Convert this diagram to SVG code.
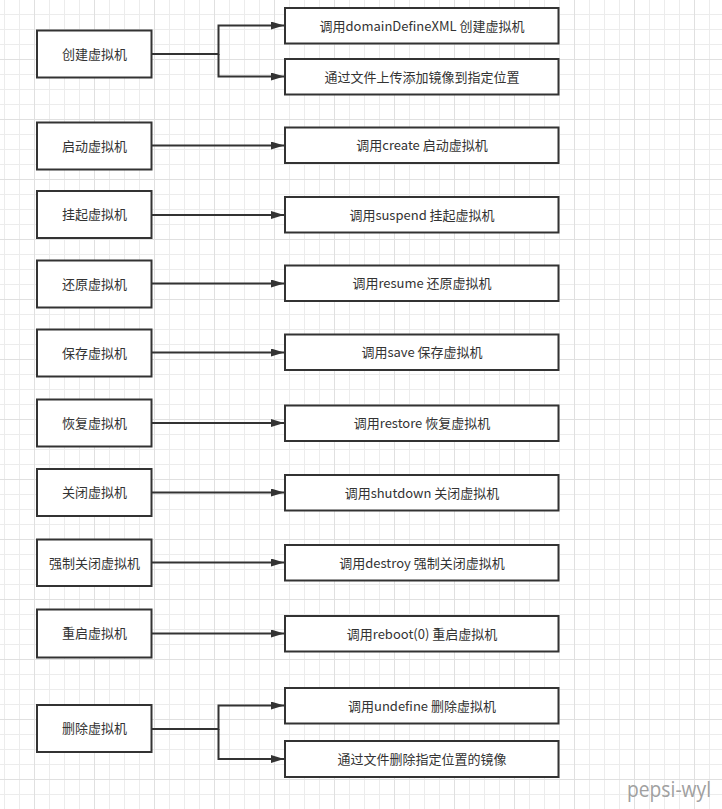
<svg xmlns="http://www.w3.org/2000/svg" width="722" height="809" viewBox="0 0 722 809">
<style>
.l{fill:#fff;stroke:#333;stroke-width:2}
.t{font-family:"Noto Sans CJK SC","Microsoft YaHei",sans-serif;font-size:13px;fill:#333;text-anchor:middle}
.c{fill:none;stroke:#333;stroke-width:2}
</style>
<defs>
<pattern id="grid" x="4" y="14" width="60" height="60" patternUnits="userSpaceOnUse">
<path d="M0.5,0V60M15.5,0V60M45.5,0V60M0,0.5H60M0,15.5H60M0,30.5H60" stroke="#ececec" stroke-width="1" fill="none"/>
<path d="M30.5,0V60M0,45.5H60" stroke="#e0e0e0" stroke-width="1" fill="none"/>
</pattern>
<marker id="ar" markerUnits="userSpaceOnUse" markerWidth="14" markerHeight="10" refX="13" refY="4" orient="auto">
<path d="M0,0L13,4L0,8z" fill="#333"/>
</marker>
</defs>
<rect width="722" height="809" fill="#fff"/>
<rect width="722" height="809" fill="url(#grid)"/>

<g id="connectors">
<path class="c" d="M152,54H218.5V25.5H284" marker-end="url(#ar)"/>
<path class="c" d="M218.5,54V76.5H284" marker-end="url(#ar)"/>
<path class="c" d="M152,145.5H284" marker-end="url(#ar)"/>
<path class="c" d="M152,215H284" marker-end="url(#ar)"/>
<path class="c" d="M152,283.5H284" marker-end="url(#ar)"/>
<path class="c" d="M152,352.5H284" marker-end="url(#ar)"/>
<path class="c" d="M152,423H284" marker-end="url(#ar)"/>
<path class="c" d="M152,492.5H284" marker-end="url(#ar)"/>
<path class="c" d="M152,562.5H284" marker-end="url(#ar)"/>
<path class="c" d="M152,633.5H284" marker-end="url(#ar)"/>
<path class="c" d="M152,729H218.5V705.5H284" marker-end="url(#ar)"/>
<path class="c" d="M218.5,729V759H284" marker-end="url(#ar)"/>
</g>

<g id="n1"><rect class="l" x="37" y="30.5" width="114.5" height="47"/><text class="t" x="94.5" y="58.5">创建虚拟机</text></g>
<g id="n1a"><rect class="l" x="285" y="8" width="273.5" height="35.5"/><text class="t" x="422" y="30.5">调用domainDefineXML 创建虚拟机</text></g>
<g id="n1b"><rect class="l" x="285" y="59" width="273.5" height="35.5"/><text class="t" x="422" y="81.5">通过文件上传添加镜像到指定位置</text></g>

<g id="n2"><rect class="l" x="37" y="122.5" width="114.5" height="47"/><text class="t" x="94.5" y="150.5">启动虚拟机</text></g>
<g id="n2a"><rect class="l" x="285" y="127.5" width="273.5" height="35.5"/><text class="t" x="422" y="150">调用create 启动虚拟机</text></g>

<g id="n3"><rect class="l" x="37" y="191" width="114.5" height="47"/><text class="t" x="94.5" y="219">挂起虚拟机</text></g>
<g id="n3a"><rect class="l" x="285" y="197" width="273.5" height="35.5"/><text class="t" x="422" y="219.5">调用suspend 挂起虚拟机</text></g>

<g id="n4"><rect class="l" x="37" y="260.5" width="114.5" height="47"/><text class="t" x="94.5" y="288.5">还原虚拟机</text></g>
<g id="n4a"><rect class="l" x="285" y="265.5" width="273.5" height="35.5"/><text class="t" x="422" y="288">调用resume 还原虚拟机</text></g>

<g id="n5"><rect class="l" x="37" y="329.5" width="114.5" height="47"/><text class="t" x="94.5" y="357.5">保存虚拟机</text></g>
<g id="n5a"><rect class="l" x="285" y="334.5" width="273.5" height="35.5"/><text class="t" x="422" y="357">调用save 保存虚拟机</text></g>

<g id="n6"><rect class="l" x="37" y="399.5" width="114.5" height="47"/><text class="t" x="94.5" y="427.5">恢复虚拟机</text></g>
<g id="n6a"><rect class="l" x="285" y="405.5" width="273.5" height="35.5"/><text class="t" x="422" y="428">调用restore 恢复虚拟机</text></g>

<g id="n7"><rect class="l" x="37" y="469" width="114.5" height="47"/><text class="t" x="94.5" y="497">关闭虚拟机</text></g>
<g id="n7a"><rect class="l" x="285" y="475" width="273.5" height="35.5"/><text class="t" x="422" y="497.5">调用shutdown 关闭虚拟机</text></g>

<g id="n8"><rect class="l" x="37" y="539.5" width="114.5" height="46.5"/><text class="t" x="94.5" y="567.5">强制关闭虚拟机</text></g>
<g id="n8a"><rect class="l" x="285" y="545" width="273.5" height="35.5"/><text class="t" x="422" y="567.5">调用destroy 强制关闭虚拟机</text></g>

<g id="n9"><rect class="l" x="37" y="609.5" width="114.5" height="48"/><text class="t" x="94.5" y="638">重启虚拟机</text></g>
<g id="n9a"><rect class="l" x="285" y="616" width="273.5" height="35.5"/><text class="t" x="422" y="638.5">调用reboot(0) 重启虚拟机</text></g>

<g id="n10"><rect class="l" x="37" y="705" width="114.5" height="47"/><text class="t" x="94.5" y="733">删除虚拟机</text></g>
<g id="n10a"><rect class="l" x="285" y="688" width="273.5" height="35.5"/><text class="t" x="422" y="710.5">调用undefine 删除虚拟机</text></g>
<g id="n10b"><rect class="l" x="285" y="741" width="273.5" height="36"/><text class="t" x="422" y="763.5">通过文件删除指定位置的镜像</text></g>

<text x="627" y="797" font-family="Open Sans, sans-serif" font-size="21" fill="#a0a0a0" textLength="84" lengthAdjust="spacingAndGlyphs">pepsi-wyl</text>
</svg>
